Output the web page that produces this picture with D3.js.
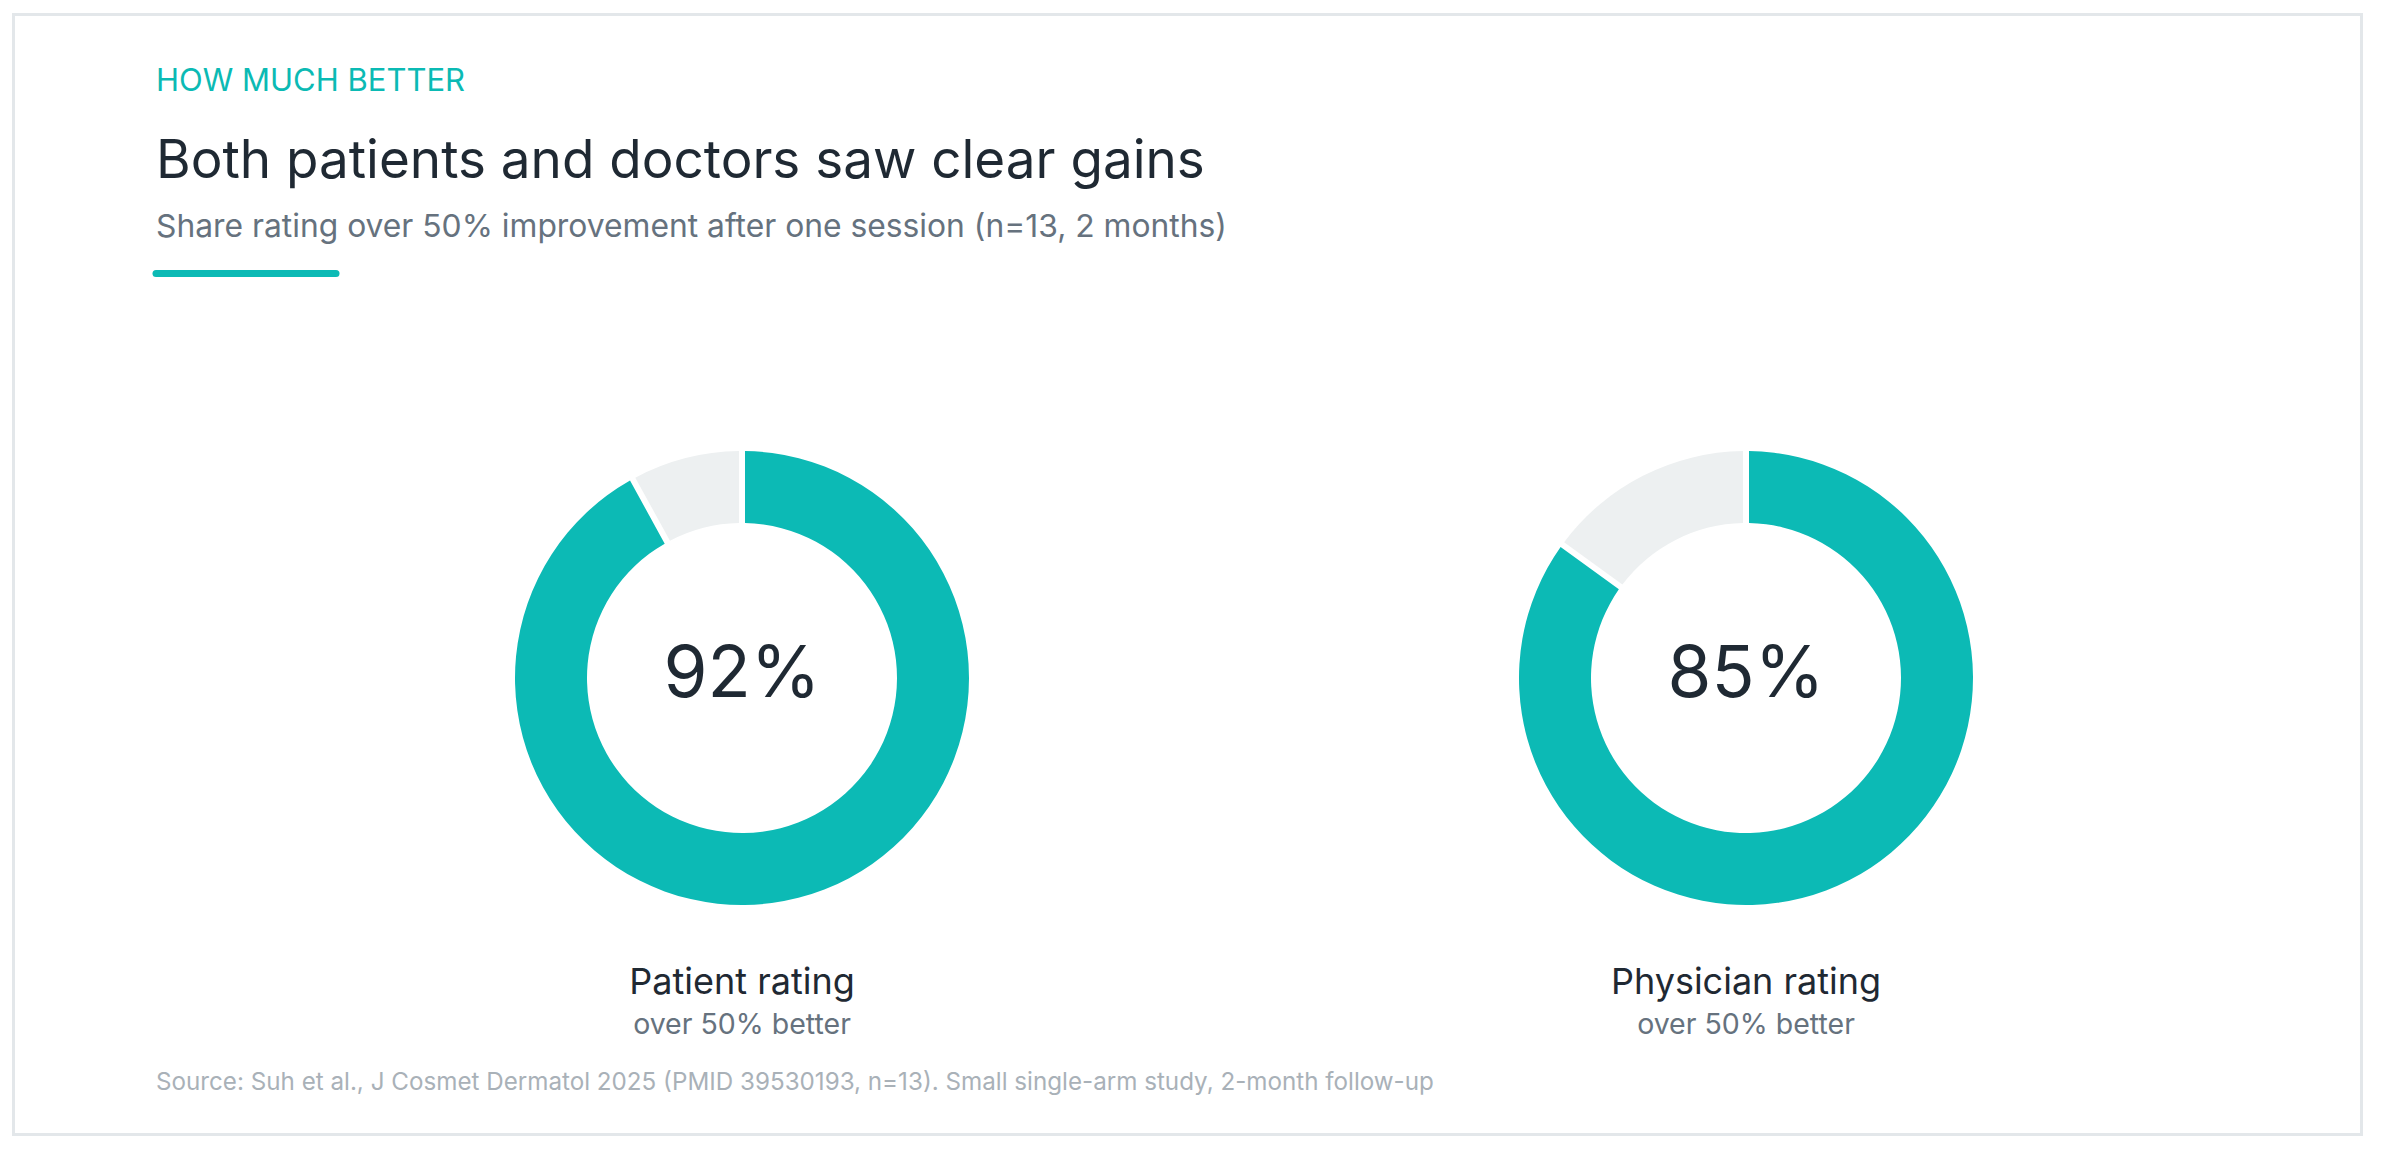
<!DOCTYPE html>
<html lang="en">
<head>
    <meta charset="UTF-8">
    <title>Both patients and doctors saw clear gains</title>
    <script src="https://d3js.org/d3.v7.min.js"></script>
    <style>
        body {
            margin: 0;
            background: #fff;
            font-family: Inter, "Liberation Sans", Arial, sans-serif;
        }
        .eyebrow { fill: #0bbab4; font-size: 31px; }
        .title { fill: #1f2933; font-size: 53px; }
        .subtitle { fill: #66727e; font-size: 31.8px; }
        .big-number { fill: #1f2933; font-size: 71px; }
        .ring-label { fill: #1f2933; font-size: 36px; }
        .ring-sub { fill: #66727e; font-size: 28.5px; }
        .source { fill: #a9b1b8; font-size: 24.2px; }
    </style>
</head>
<body>
    <svg id="chart" width="2392" height="1150"></svg>

    <script>
        // Data
        const ratings = ["Patient rating", "Physician rating"];
        const shares = [92, 85];          // % rating over 50% improvement
        const subLabels = ["over 50% better", "over 50% better"];

        const eyebrowText = "HOW MUCH BETTER";
        const titleText = "Both patients and doctors saw clear gains";
        const subtitleText = "Share rating over 50% improvement after one session (n=13, 2 months)";
        const sourceText = "Source: Suh et al., J Cosmet Dermatol 2025 (PMID 39530193, n=13). Small single-arm study, 2-month follow-up";

        const teal = "#0cbab5";
        const track = "#edf0f1";

        const svg = d3.select("#chart");

        // Card frame
        svg.append("rect")
            .attr("x", 13.5)
            .attr("y", 14.5)
            .attr("width", 2348)
            .attr("height", 1120)
            .attr("fill", "#fff")
            .attr("stroke", "#e3e7ea")
            .attr("stroke-width", 3);

        // Header
        const left = 156;
        svg.append("text").attr("class", "eyebrow")
            .attr("x", left).attr("y", 91).text(eyebrowText);
        svg.append("text").attr("class", "title")
            .attr("x", left).attr("y", 178).text(titleText);
        svg.append("text").attr("class", "subtitle")
            .attr("x", left).attr("y", 237).text(subtitleText);
        svg.append("line")
            .attr("x1", 156).attr("x2", 336)
            .attr("y1", 273.5).attr("y2", 273.5)
            .attr("stroke", teal)
            .attr("stroke-width", 7)
            .attr("stroke-linecap", "round");

        // Donuts
        const x = d3.scaleBand().domain(ratings).range([240, 2248]);
        const cy = 678;
        const outerR = 227;
        const innerR = 155;

        const pie = d3.pie().sort(null).value(d => d);
        const arc = d3.arc()
            .innerRadius(innerR)
            .outerRadius(outerR)
            .padRadius(outerR)
            .padAngle(6 / outerR);

        const groups = svg.selectAll(".donut")
            .data(ratings.map((r, i) => ({ label: r, share: shares[i], sub: subLabels[i] })))
            .join("g")
            .attr("class", "donut")
            .attr("transform", d => `translate(${x(d.label) + x.bandwidth() / 2},${cy})`);

        groups.selectAll("path")
            .data(d => pie([d.share, 100 - d.share]))
            .join("path")
            .attr("d", arc)
            .attr("fill", (d, i) => i === 0 ? teal : track);

        groups.append("text")
            .attr("class", "big-number")
            .attr("text-anchor", "middle")
            .attr("y", 19)
            .text(d => d.share + "%");

        groups.append("text")
            .attr("class", "ring-label")
            .attr("text-anchor", "middle")
            .attr("y", 316)
            .text(d => d.label);

        groups.append("text")
            .attr("class", "ring-sub")
            .attr("text-anchor", "middle")
            .attr("y", 356)
            .text(d => d.sub);

        // Source note
        svg.append("text").attr("class", "source")
            .attr("x", left).attr("y", 1090).text(sourceText);
    </script>
</body>
</html>
